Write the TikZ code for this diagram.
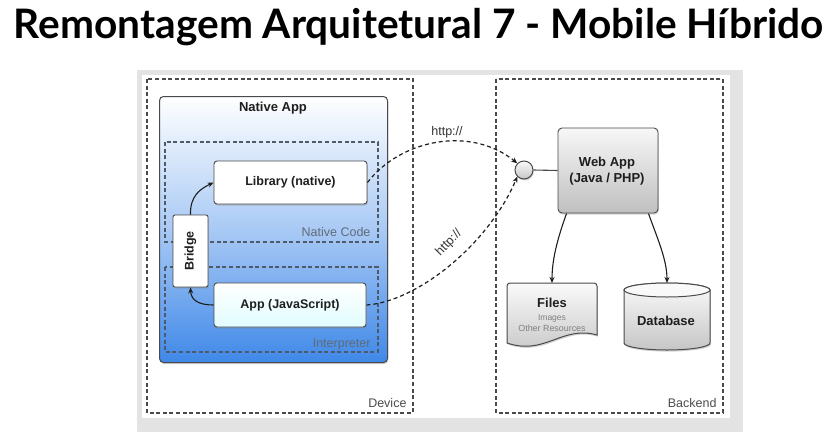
\documentclass[tikz,border=0pt]{standalone}
\usepackage{fontspec}
\setmainfont{Liberation Sans}
\newfontfamily\titlefont{Lato}
\usetikzlibrary{shapes.geometric,arrows.meta,shadows}
\definecolor{ink}{HTML}{1E1E1E}
\definecolor{frame}{HTML}{4A4A4A}
\definecolor{blueTop}{HTML}{FFFFFF}
\definecolor{blueBot}{HTML}{3F88E8}
\definecolor{dashcol}{HTML}{4E5A6A}
\definecolor{panel}{HTML}{E3E3E3}
\begin{document}
\begin{tikzpicture}[x=1pt,y=-1pt,
  outerbox/.style={draw=frame, line width=1.3pt, dash pattern=on 4pt off 2.6pt},
  innerbox/.style={draw=dashcol, line width=1.1pt, dash pattern=on 4pt off 2.6pt},
  shad/.style={drop shadow={opacity=0.35, shadow xshift=0.8pt, shadow yshift=-1.6pt}},
  whitebox/.style={draw=frame, line width=0.9pt, rounded corners=3pt, fill=white, shad, font=\fontsize{12.5}{14}\selectfont\bfseries, text=ink},
  greybox/.style={draw=frame, line width=0.9pt, rounded corners=4pt, top color=gray!6, bottom color=gray!50, shad, text=ink},
  lbl/.style={font=\fontsize{12.5}{14}\selectfont, text=black!70},
  arr/.style={draw=ink, line width=1.1pt, -{Stealth[length=6pt,width=5pt]}},
  http/.style={draw=ink, line width=1.2pt, dash pattern=on 4pt off 3pt, -{Stealth[length=6pt,width=5pt]}}
]
\useasboundingbox (0,0) rectangle (834,439);
\fill[white] (0,0) rectangle (834,439);
% title
\node[anchor=base, text=black] (title) at (419,38) {\resizebox{810pt}{!}{\titlefont\bfseries Remontagem Arquitetural 7 - Mobile Híbrido}};
% panel
\fill[panel] (137,70) rectangle (743,432);
\fill[white] (142,75) rectangle (730,418);
% device / backend
\draw[outerbox] (147,79) rectangle (413,413);
\draw[outerbox] (496,79) rectangle (723,413);
\node[lbl, anchor=base east] (devlbl) at (410,407) {Device};
\node[lbl, anchor=base east] (backlbl) at (720,407) {Backend};
% native app
\node[draw=frame, line width=1pt, rounded corners=4pt, top color=blueTop, bottom color=blueBot, middle color=blueBot!45, shad,
      minimum width=228, minimum height=266, anchor=north west] (native) at (159,96) {};
\node[font=\fontsize{13}{15}\selectfont\bfseries, text=ink] (nativelbl) at (273,108) {Native App};
\draw[innerbox] (165,142) rectangle (378,242);
\draw[innerbox] (165,267) rectangle (378,352);
\node[lbl, text=dashcol!90, anchor=base east] (nclbl) at (374,236) {Native Code};
\node[lbl, text=dashcol!90, anchor=base east] (intlbl) at (374,347) {Interpreter};
% inner boxes
\node[whitebox, minimum width=153, minimum height=43] (lib) at (290.5,182.5) {Library (native)};
\node[whitebox, top color=white, bottom color=blue!8!cyan!12, minimum width=152, minimum height=44] (app) at (290,305) {App (JavaScript)};
\node[whitebox, minimum width=35, minimum height=72, rounded corners=2pt] (bridge) at (190.5,251) {};
\node[rotate=90, font=\fontsize{12.5}{14}\selectfont\bfseries, text=ink] (bridgelbl) at (bridge.center) {Bridge};
\draw[arr] (bridge.north) .. controls (190,196) and (200,189) .. (lib.west);
\draw[arr] (app.west) .. controls (200,305) and (191,301) .. (bridge.south);
% backend
\node[greybox, minimum width=100, minimum height=85] (web) at (608,170.5) {};
\node[font=\fontsize{13}{15.5}\selectfont\bfseries, text=ink, align=center] (weblbl) at (607,171) {Web App\\(Java / PHP)};
\node[circle, draw=frame, line width=1pt, top color=gray!4, bottom color=gray!45, minimum size=18, inner sep=0pt, shad] (circ) at (524,170) {};
\draw[frame, line width=1.1pt] (circ.east) -- (web.west);
% files
\path[draw=frame, line width=1pt, top color=gray!4, bottom color=gray!45, shad]
  (507,343) [rounded corners=3pt] -- (507,283) -- (597,283) [sharp corners] -- (597,335)
  .. controls (562,325) and (545,356) .. (507,343) -- cycle;
\coordinate (filestop) at (552,283);
\node[align=center, text=ink, inner sep=0pt] (files) at (552,315) {{\fontsize{13}{13}\selectfont\bfseries Files}\\[1pt]{\fontsize{8.5}{10}\selectfont\color{gray} Images}\\[-1.5pt]{\fontsize{8.9}{10}\selectfont\color{gray} Other Resources}};
% database
\path[draw=frame, line width=1pt, top color=gray!4, bottom color=gray!45, shad]
  (624,290) -- (624,343) arc[start angle=180, end angle=0, x radius=43, y radius=7]
  -- (710,290) arc[start angle=0, end angle=-180, x radius=43, y radius=7] -- cycle;
\draw[frame, line width=1pt, fill=gray!5] (667,290) ellipse[x radius=43, y radius=7];
\coordinate (dbtop) at (667,283);
\node[font=\fontsize{13}{15}\selectfont\bfseries, text=ink] (db) at (666,321) {Database};
\draw[arr] ([xshift=9pt]web.south west) .. controls (557,240) and (552,260) .. (filestop);
\draw[arr] ([xshift=-10pt]web.south east) .. controls (658,240) and (667,260) .. (dbtop);
% http
\draw[http] (lib.east) .. controls (400,140) and (470,125) .. (circ.north west);
\draw[http] (app.east) .. controls (415,302) and (487,247) .. (circ.south west);
\node[lbl, text=black!80] (http1) at (447,132) {http://};
\node[lbl, text=black!80, rotate=46] (http2) at (449,243) {http://};
\end{tikzpicture}
\end{document}
